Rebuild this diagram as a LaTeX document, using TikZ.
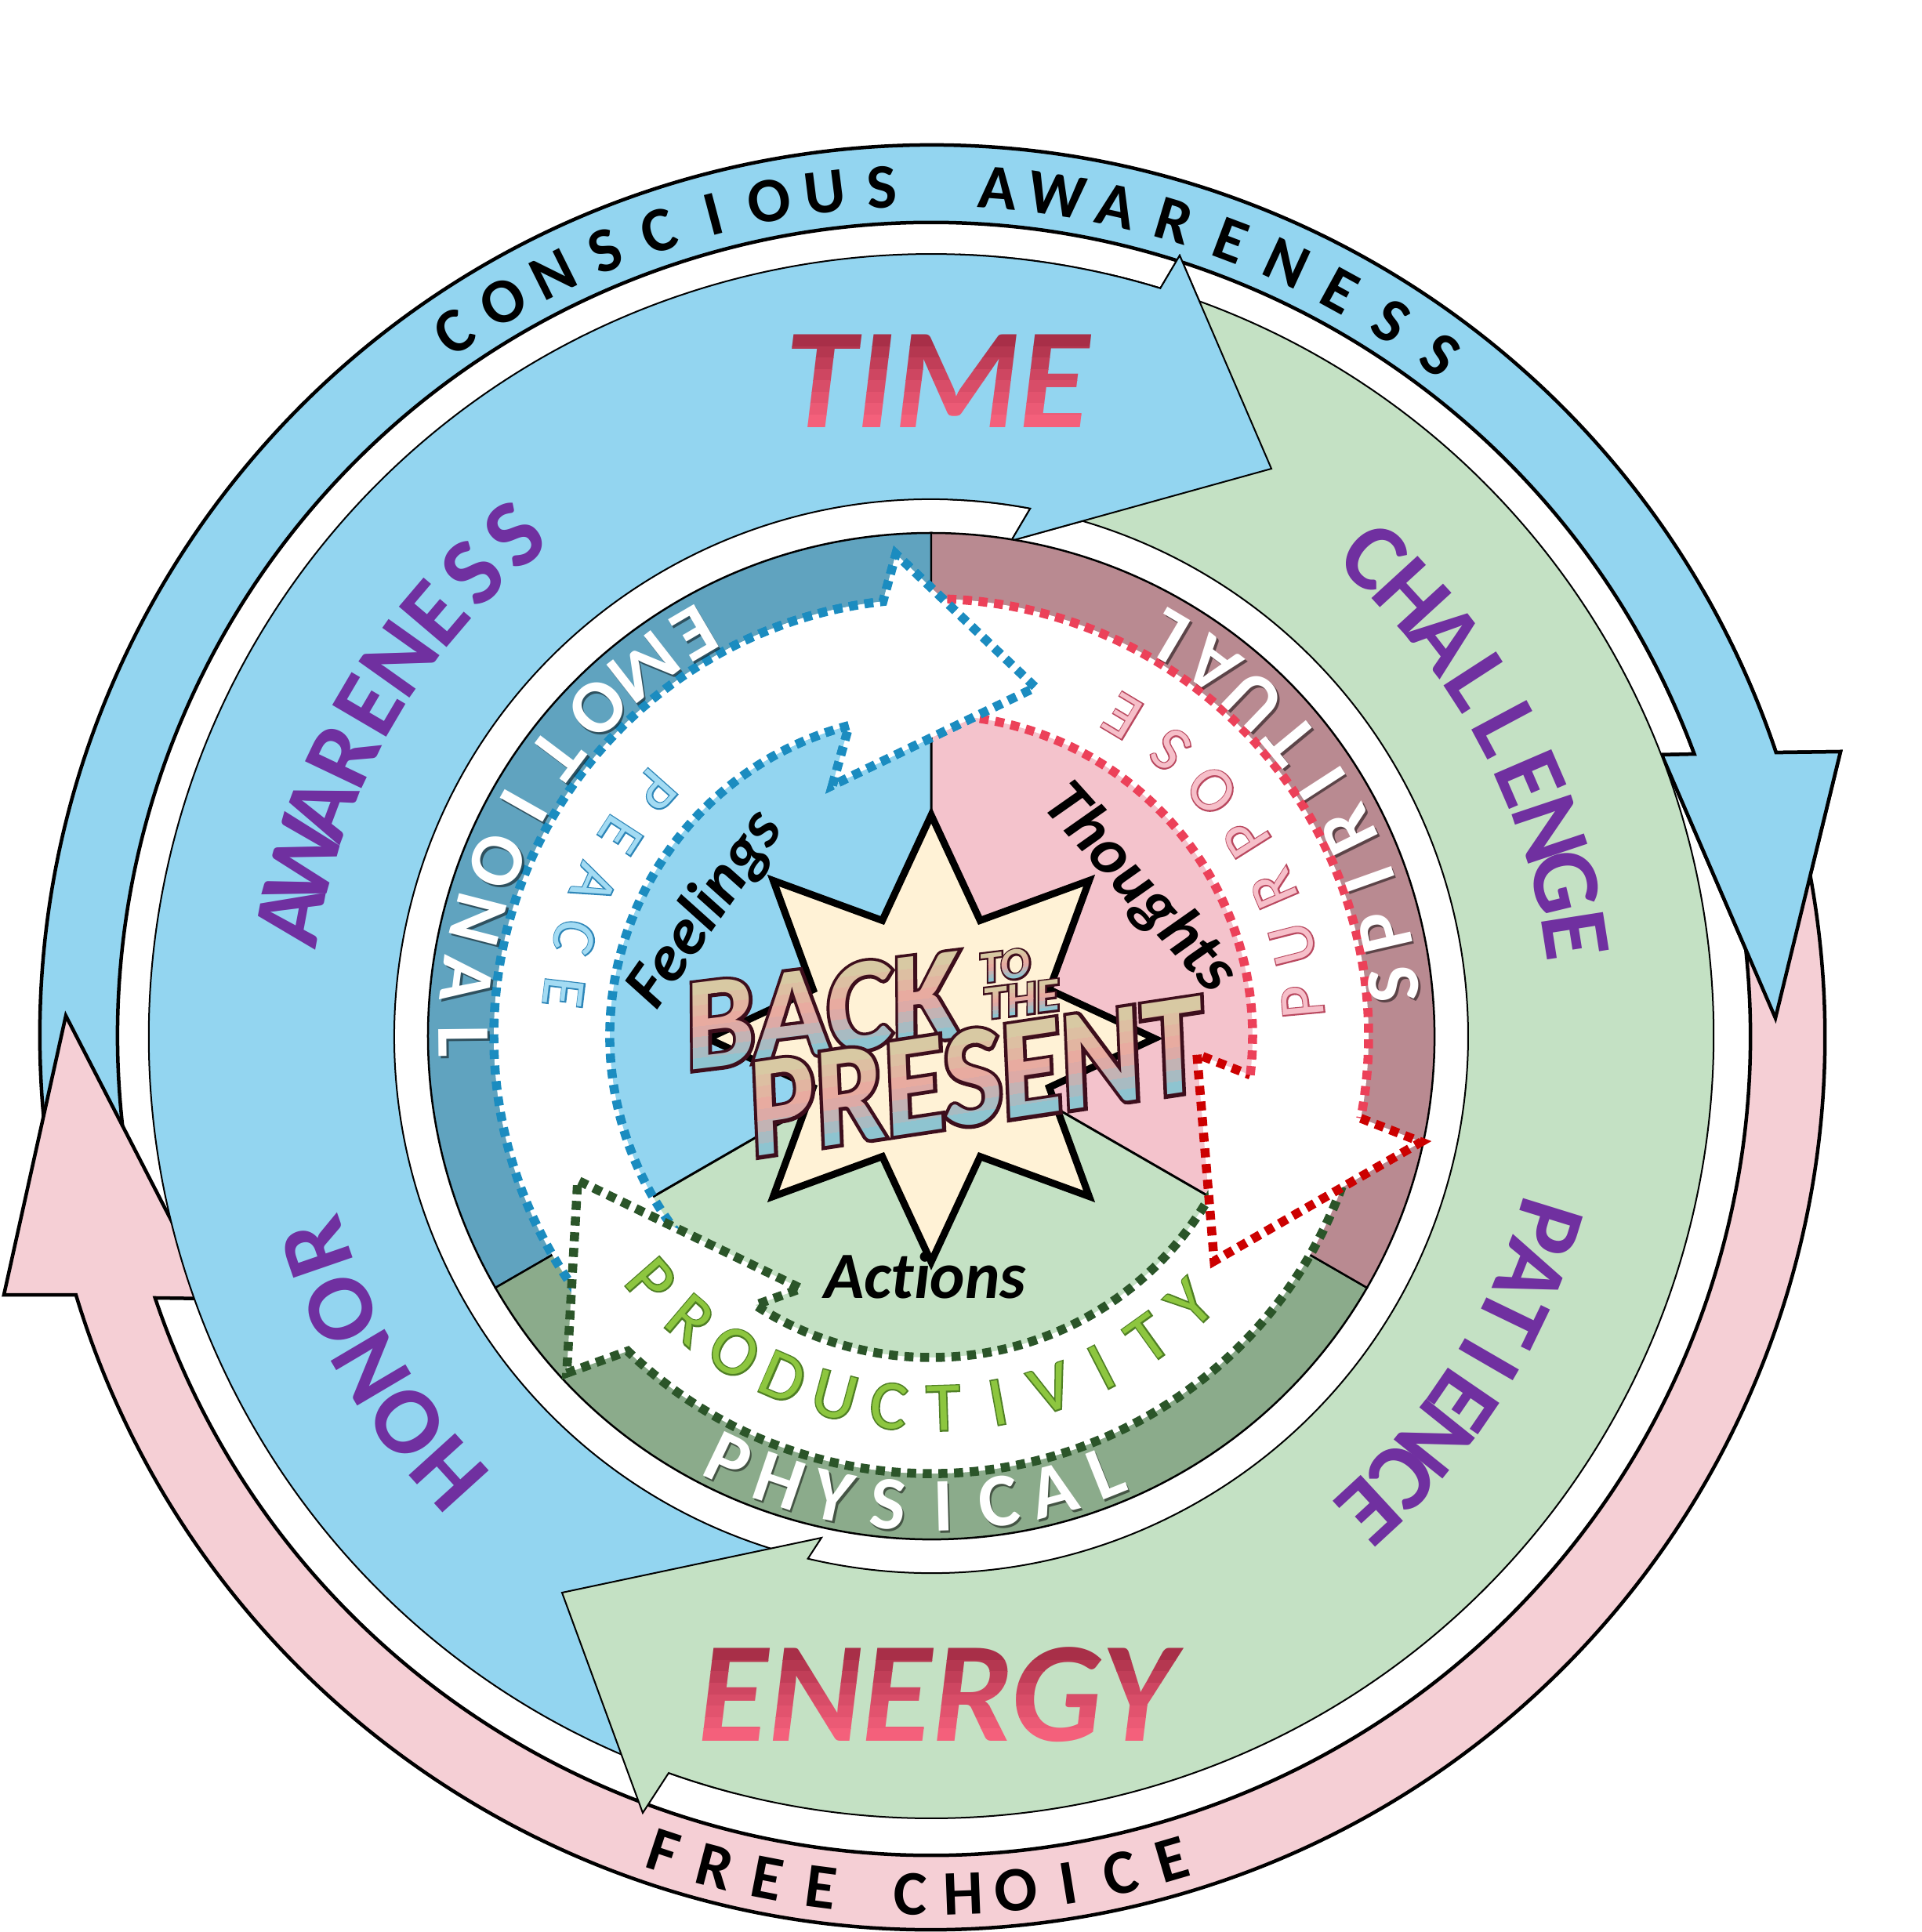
\documentclass[tikz,border=0pt]{standalone}
\usepackage{fontspec}
\setmainfont{Carlito}[Ligatures=NoCommon]
\newfontfamily\condfont{Carlito}[FakeStretch=0.87, Ligatures=NoCommon]
\newfontfamily\condolfont{Carlito}[FakeStretch=0.87, FakeBold=5, Ligatures=NoCommon]
\newfontfamily\backfont{Carlito}[FakeStretch=0.95, Ligatures=NoCommon]
\newfontfamily\backolfont{Carlito}[FakeStretch=0.95, FakeBold=5, Ligatures=NoCommon]
\newfontfamily\smolfont{Carlito}[FakeBold=8, Ligatures=NoCommon]
\newfontfamily\thinolfont{Carlito}[FakeBold=4, Ligatures=NoCommon]
\usetikzlibrary{calc}

\definecolor{skyb}{HTML}{93D5F0}
\definecolor{pinkb}{HTML}{F5CFD5}
\definecolor{greenb}{HTML}{C4E1C4}
\definecolor{ringb}{HTML}{60A3BF}
\definecolor{ringp}{HTML}{B98A91}
\definecolor{ringg}{HTML}{8BAB8B}
\definecolor{lightp}{HTML}{F4C3CC}
\definecolor{purp}{HTML}{7030A0}
\definecolor{dotb}{HTML}{1B8CC0}
\definecolor{dotr}{HTML}{EC4159}
\definecolor{dotrh}{HTML}{CC0000}
\definecolor{dotg}{HTML}{2B5529}
\definecolor{starfill}{HTML}{FFF2D6}
\definecolor{tred1}{HTML}{A82F48}
\definecolor{tred2}{HTML}{D44A65}
\definecolor{tred3}{HTML}{F4607B}
\definecolor{gtop}{HTML}{D8C9A3}
\definecolor{gmid}{HTML}{EAA69F}
\definecolor{gbot}{HTML}{8EC4D0}
\definecolor{olcol}{HTML}{3D0E1C}
\definecolor{peacef}{HTML}{A3DBF3}
\definecolor{peaceo}{HTML}{2E86B8}
\definecolor{purpf}{HTML}{F6BFC9}
\definecolor{purpo}{HTML}{B9485F}
\definecolor{prodf}{HTML}{8DC63F}
\definecolor{prodo}{HTML}{4F7F25}

\newlength\chw
% letters along an arc: #1 radius, #2 first centre angle, #3 last centre angle,
% #4 format, #5 letters, #6 node options, #7 name prefix
\newcommand\arcword[7]{%
  \gdef\awtot{0}\gdef\awn{0}\gdef\awwf{0}\gdef\awwl{0}%
  \foreach \ch in {#5}{%
    \settowidth{\chw}{#4\ch}%
    \pgfmathsetmacro\tmpw{\chw/28.4528}%
    \pgfmathsetmacro\tmpt{\awtot+\tmpw}\xdef\awtot{\tmpt}%
    \pgfmathtruncatemacro\tmpn{\awn+1}\xdef\awn{\tmpn}%
    \ifnum\tmpn=1 \xdef\awwf{\tmpw}\fi
    \xdef\awwl{\tmpw}%
  }%
  \pgfmathsetmacro\awdir{((#3)>(#2)) ? 1 : -1}%
  \pgfmathsetmacro\awgap{(abs((#3)-(#2))*pi/180*(#1)-(\awtot-\awwf/2-\awwl/2))/max(\awn-1,1)}%
  \pgfmathsetmacro\tmpe{(#2)-\awdir*\awwf/2/(#1)*180/pi}\xdef\awedge{\tmpe}%
  \foreach \ch [count=\awi] in {#5}{%
    \settowidth{\chw}{#4\ch}%
    \pgfmathsetmacro\tmpw{\chw/28.4528}%
    \pgfmathsetmacro\tmpc{\awedge+\awdir*(\tmpw/2)/(#1)*180/pi}%
    \pgfmathsetmacro\tmpe{\awedge+\awdir*(\tmpw+\awgap)/(#1)*180/pi}%
    \xdef\awedge{\tmpe}%
    \node[inner sep=0pt, anchor=center, rotate=\tmpc+90*\awdir, #6] (#7\awi) at (\tmpc:#1) {#4\ch};
  }%
}

% gradient text: #1 name, #2 centre, #3 rotation, #4 font, #5 text, #6 cap height, #7 top, #8 mid, #9 bottom
\newcommand\gradnode[9]{%
  \begin{scope}[shift={#2}, rotate=#3]
  \foreach \gi in {0,...,7}{%
    \pgfmathsetmacro\gs{\gi/7}%
    \ifdim\gs pt<0.5pt
      \pgfmathsetmacro\gp{200*\gs}\edef\gcol{#8!\gp!#7}%
    \else
      \pgfmathsetmacro\gp{200*(\gs-0.5)}\edef\gcol{#9!\gp!#8}%
    \fi
    \pgfmathsetmacro\gyt{\gi==0 ? 5 : #6/2-\gi*#6/8}%
    \pgfmathsetmacro\gyb{\gi==7 ? -5 : #6/2-(\gi+1)*#6/8}%
    \begin{scope}
      \clip (-12,\gyt) rectangle (12,\gyb);
      \node[inner sep=0pt, font=#4, text=\gcol, transform shape] (#1\gi) at (0,0) {#5};
    \end{scope}
  }%
  \end{scope}}

\newcommand\pathOB{(189:11.37) arc[start angle=189, end angle=18.56, radius=11.37] -- (11.60,3.63) -- (10.77,0.23) -- (9.32,3.59) -- (20.29:10.38) arc[start angle=20.29, end angle=189, radius=10.38] -- cycle}
\newcommand\pathPK{(12:11.40) arc[start angle=12, end angle=-163.17, radius=11.40] -- (-11.83,-3.30) -- (-11.04,0.26) -- (-9.18,-3.35) -- (-161.36:10.45) arc[start angle=-161.36, end angle=12, radius=10.45] -- cycle}
\newcommand\pathTB{(255.5:9.98) arc[start angle=255.5, end angle=72.97, radius=9.98] -- (3.17,9.96) -- (4.34,7.24) -- (1.02,6.32) -- (79.37:6.85) arc[start angle=79.37, end angle=255.5, radius=6.85] -- cycle}
\newcommand\pathGR{(77:9.98) arc[start angle=77, end angle=-109.61, radius=9.98] -- (-3.68,-9.91) -- (-4.71,-7.10) -- (-1.40,-6.40) -- (-103.28:6.85) arc[start angle=-103.28, end angle=77, radius=6.85] -- cycle}
\newcommand\pathBD{(222:5.58) arc[start angle=222, end angle=96.33, radius=5.58] -- (-0.45,6.15) -- (1.33,4.45) -- (-1.26,3.20) -- (104.8:4.10) arc[start angle=104.8, end angle=222, radius=4.10]}
\newcommand\pathGD{(-16:5.58) arc[start angle=-16, end angle=-133.94, radius=5.58] -- (-4.65,-4.30) -- (-4.51,-1.84) -- (-1.66,-3.22) -- (-123.2:4.10) arc[start angle=-123.2, end angle=-16, radius=4.10]}
\newcommand\pathRD{(92:5.58) arc[start angle=92, end angle=-10.83, radius=5.58] -- (6.25,-1.35) -- (3.61,-2.87) -- (3.39,-0.23) -- (-6.95:4.10) arc[start angle=-6.95, end angle=92, radius=4.10]}

\newcommand\bandfont{\fontsize{23}{28}\selectfont\bfseries}
\newcommand\purpfont{\fontsize{35}{42}\selectfont\bfseries}
\newcommand\ringfont{\fontsize{27.5}{33}\selectfont\bfseries}

\tikzset{
  outerarrow/.style={draw=black, line width=0.045cm, line join=miter},
  bigarrow/.style={draw=black, line width=0.02cm, line join=miter},
  dotline/.style={line width=0.115cm, dash pattern=on 0.115cm off 0.085cm, line cap=butt},
  sector/.style={draw=black, line width=0.025cm},
  inword/.style={font=\fontsize{24}{29}\selectfont\bfseries\itshape, inner sep=0pt},
}

\begin{document}
\begin{tikzpicture}
% ---------- outer arrows ----------
\filldraw[outerarrow, fill=skyb] \pathOB;
\filldraw[outerarrow, fill=pinkb] \pathPK;
\begin{scope}
  \clip (0,0) -- (-8:15) -- (30:15) -- cycle;
  \filldraw[outerarrow, fill=skyb] \pathOB;
\end{scope}

% ---------- big arrows ----------
\filldraw[bigarrow, fill=skyb] \pathTB;
\filldraw[bigarrow, fill=greenb] \pathGR;
\begin{scope}
  \clip (0,0) -- (45:13) -- (88:13) -- cycle;
  \filldraw[bigarrow, fill=skyb] \pathTB;
\end{scope}

% ---------- inner disc ----------
\filldraw[sector, fill=ringb] (0,0) -- (90:6.42) arc[start angle=90, end angle=210, radius=6.42] -- cycle;
\filldraw[sector, fill=ringg] (0,0) -- (210:6.42) arc[start angle=210, end angle=330, radius=6.42] -- cycle;
\filldraw[sector, fill=ringp] (0,0) -- (-30:6.42) arc[start angle=-30, end angle=90, radius=6.42] -- cycle;
\fill[skyb] (0,0) -- (90:4.8) arc[start angle=90, end angle=210, radius=4.8] -- cycle;
\fill[greenb] (0,0) -- (210:4.8) arc[start angle=210, end angle=330, radius=4.8] -- cycle;
\fill[lightp] (0,0) -- (-30:4.8) arc[start angle=-30, end angle=90, radius=4.8] -- cycle;
\draw[line width=0.03cm] (0,0) -- (90:4.8) (0,0) -- (210:4.8) (0,0) -- (-30:4.8);

% ---------- dotted cycle arrows ----------
\fill[white] \pathBD -- cycle;
\draw[dotline, dotb] \pathBD;
\fill[white] \pathGD -- cycle;
\draw[dotline, dotg] \pathGD;
\fill[white] \pathRD -- cycle;
\draw[dotline, dotr] (92:5.58) arc[start angle=92, end angle=-10.83, radius=5.58];
\draw[dotline, dotrh] (-10.83:5.58) -- (6.25,-1.35) -- (3.61,-2.87) -- (3.39,-0.23) -- (-6.95:4.10);
\draw[dotline, dotr] (-6.95:4.10) arc[start angle=-6.95, end angle=92, radius=4.10];
\begin{scope}
  \clip (0,0) -- (62:8) -- (118:8) -- cycle;
  \fill[white] \pathBD -- cycle;
  \draw[dotline, dotb] \pathBD;
\end{scope}

% ---------- star ----------
\begin{scope}[shift={(0,-0.03)}]
\filldraw[fill=starfill, draw=black, line width=0.09cm, line join=miter]
  (0:2.85) -- (22.5:1.63) -- (45:2.85) -- (67.5:1.63) -- (90:2.85) -- (112.5:1.63)
  -- (135:2.85) -- (157.5:1.63) -- (180:2.85) -- (202.5:1.63) -- (225:2.85)
  -- (247.5:1.63) -- (270:2.85) -- (292.5:1.63) -- (315:2.85) -- (337.5:1.63) -- cycle;
\end{scope}

% ---------- outer band texts ----------
\arcword{10.85}{124.1}{93.3}{\bandfont}{C,O,N,S,C,I,O,U,S}{text=black}{ca}
\arcword{10.85}{85.5}{53.2}{\bandfont}{A,W,A,R,E,N,E,S,S}{text=black}{cb}
\arcword{10.95}{251.8}{262.6}{\bandfont}{F,R,E,E}{text=black}{fa}
\arcword{10.95}{268.6}{286.3}{\bandfont}{C,H,O,I,C,E}{text=black}{fb}

% ---------- purple words ----------
\arcword{8.32}{169.4}{129.7}{\purpfont}{A,W,A,R,E,N,E,S,S}{text=purp}{aw}
\arcword{8.32}{47.3}{8.9}{\purpfont}{C,H,A,L,L,E,N,G,E}{text=purp}{ch}
\arcword{8.23}{-17.2}{-47.3}{\purpfont}{P,A,T,I,E,N,C,E}{text=purp}{pa}
\arcword{8.30}{222.2}{199.0}{\purpfont}{H,O,N,O,R}{text=purp}{ho}

% ---------- TIME / ENERGY ----------
\gradnode{tm}{(0.08,8.36)}{0}{\fontsize{52}{60}\selectfont\bfseries\itshape}{TIME}{1.16}{tred1}{tred2}{tred3}
\gradnode{en}{(0.07,-8.40)}{0}{\fontsize{52}{60}\selectfont\bfseries\itshape}{ENERGY}{1.17}{tred1}{tred2}{tred3}

% ---------- ring words (soft shadow, then white) ----------
\begin{scope}[shift={(0.025,-0.03)}]
\arcword{5.97}{120.4}{180.6}{\ringfont}{E,M,O,T,I,O,N,A,L}{text=black, text opacity=0.5}{ems}
\arcword{5.94}{6.4}{59.4}{\ringfont}{S,P,I,R,I,T,U,A,L}{text=black, text opacity=0.5}{sps}
\arcword{6.00}{244.4}{291.8}{\ringfont}{P,H,Y,S,I,C,A,L}{text=black, text opacity=0.5}{phs}
\end{scope}
\arcword{5.97}{120.4}{180.6}{\ringfont}{E,M,O,T,I,O,N,A,L}{text=white}{em}
\arcword{5.94}{6.4}{59.4}{\ringfont}{S,P,I,R,I,T,U,A,L}{text=white}{sp}
\arcword{6.00}{244.4}{291.8}{\ringfont}{P,H,Y,S,I,C,A,L}{text=white}{ph}

% ---------- band words (emboldened dark copy gives the outline) ----------
\arcword{4.72}{138.3}{173.2}{\fontsize{22}{26}\selectfont\thinolfont}{P,E,A,C,E}{text=peaceo}{peo}
\arcword{4.72}{138.3}{173.2}{\fontsize{22}{26}\selectfont}{P,E,A,C,E}{text=peacef}{pe}
\arcword{4.76}{5.3}{59.1}{\fontsize{23}{27}\selectfont\thinolfont}{P,U,R,P,O,S,E}{text=purpo}{puo}
\arcword{4.76}{5.3}{59.1}{\fontsize{23}{27}\selectfont}{P,U,R,P,O,S,E}{text=purpf}{pu}
\arcword{4.75}{221.2}{314.1}{\fontsize{25}{30}\selectfont\thinolfont}{P,R,O,D,U,C,T,I,V,I,T,Y}{text=prodo}{pro}
\arcword{4.75}{221.2}{314.1}{\fontsize{25}{30}\selectfont}{P,R,O,D,U,C,T,I,V,I,T,Y}{text=prodf}{pr}

% ---------- feelings / thoughts / actions ----------
\node[inword, rotate=55] (feel) at (-2.87,1.61) {Feelings};
\node[inword, rotate=-48] (thou) at (2.65,1.88) {Thoughts};
\node[inword] (act) at (-0.08,-3.05) {Actions};

% ---------- BACK TO THE PRESENT ----------
\node[inner sep=0pt, text=olcol, rotate=7, font=\fontsize{48}{56}\selectfont\backolfont\bfseries\itshape] (backo) at (-1.40,0.32) {BACK};
\gradnode{back}{(-1.40,0.32)}{7}{\fontsize{48}{56}\selectfont\backfont\bfseries\itshape}{BACK}{1.07}{gtop}{gmid}{gbot}
\node[inner sep=0pt, text=olcol, rotate=7, font=\fontsize{16}{19}\selectfont\smolfont\bfseries\itshape] (toO) at (0.94,0.90) {TO};
\gradnode{to}{(0.94,0.90)}{7}{\fontsize{16}{19}\selectfont\bfseries\itshape}{TO}{0.36}{gtop}{gmid}{gbot}
\node[inner sep=0pt, text=olcol, rotate=7, font=\fontsize{17}{20}\selectfont\smolfont\bfseries\itshape] (theO) at (1.15,0.47) {THE};
\gradnode{the}{(1.15,0.47)}{7}{\fontsize{17}{20}\selectfont\bfseries\itshape}{THE}{0.38}{gtop}{gmid}{gbot}
\node[inner sep=0pt, text=olcol, rotate=8.5, font=\fontsize{52}{60}\selectfont\condolfont\bfseries\itshape] (preO) at (0.56,-0.52) {PRESENT};
\gradnode{pre}{(0.56,-0.52)}{8.5}{\fontsize{52}{60}\selectfont\condfont\bfseries\itshape}{PRESENT}{1.16}{gtop}{gmid}{gbot}

\pgfresetboundingbox
\path[use as bounding box] (-11.88,-11.43) rectangle (12.64,13.22);
\end{tikzpicture}
\end{document}
